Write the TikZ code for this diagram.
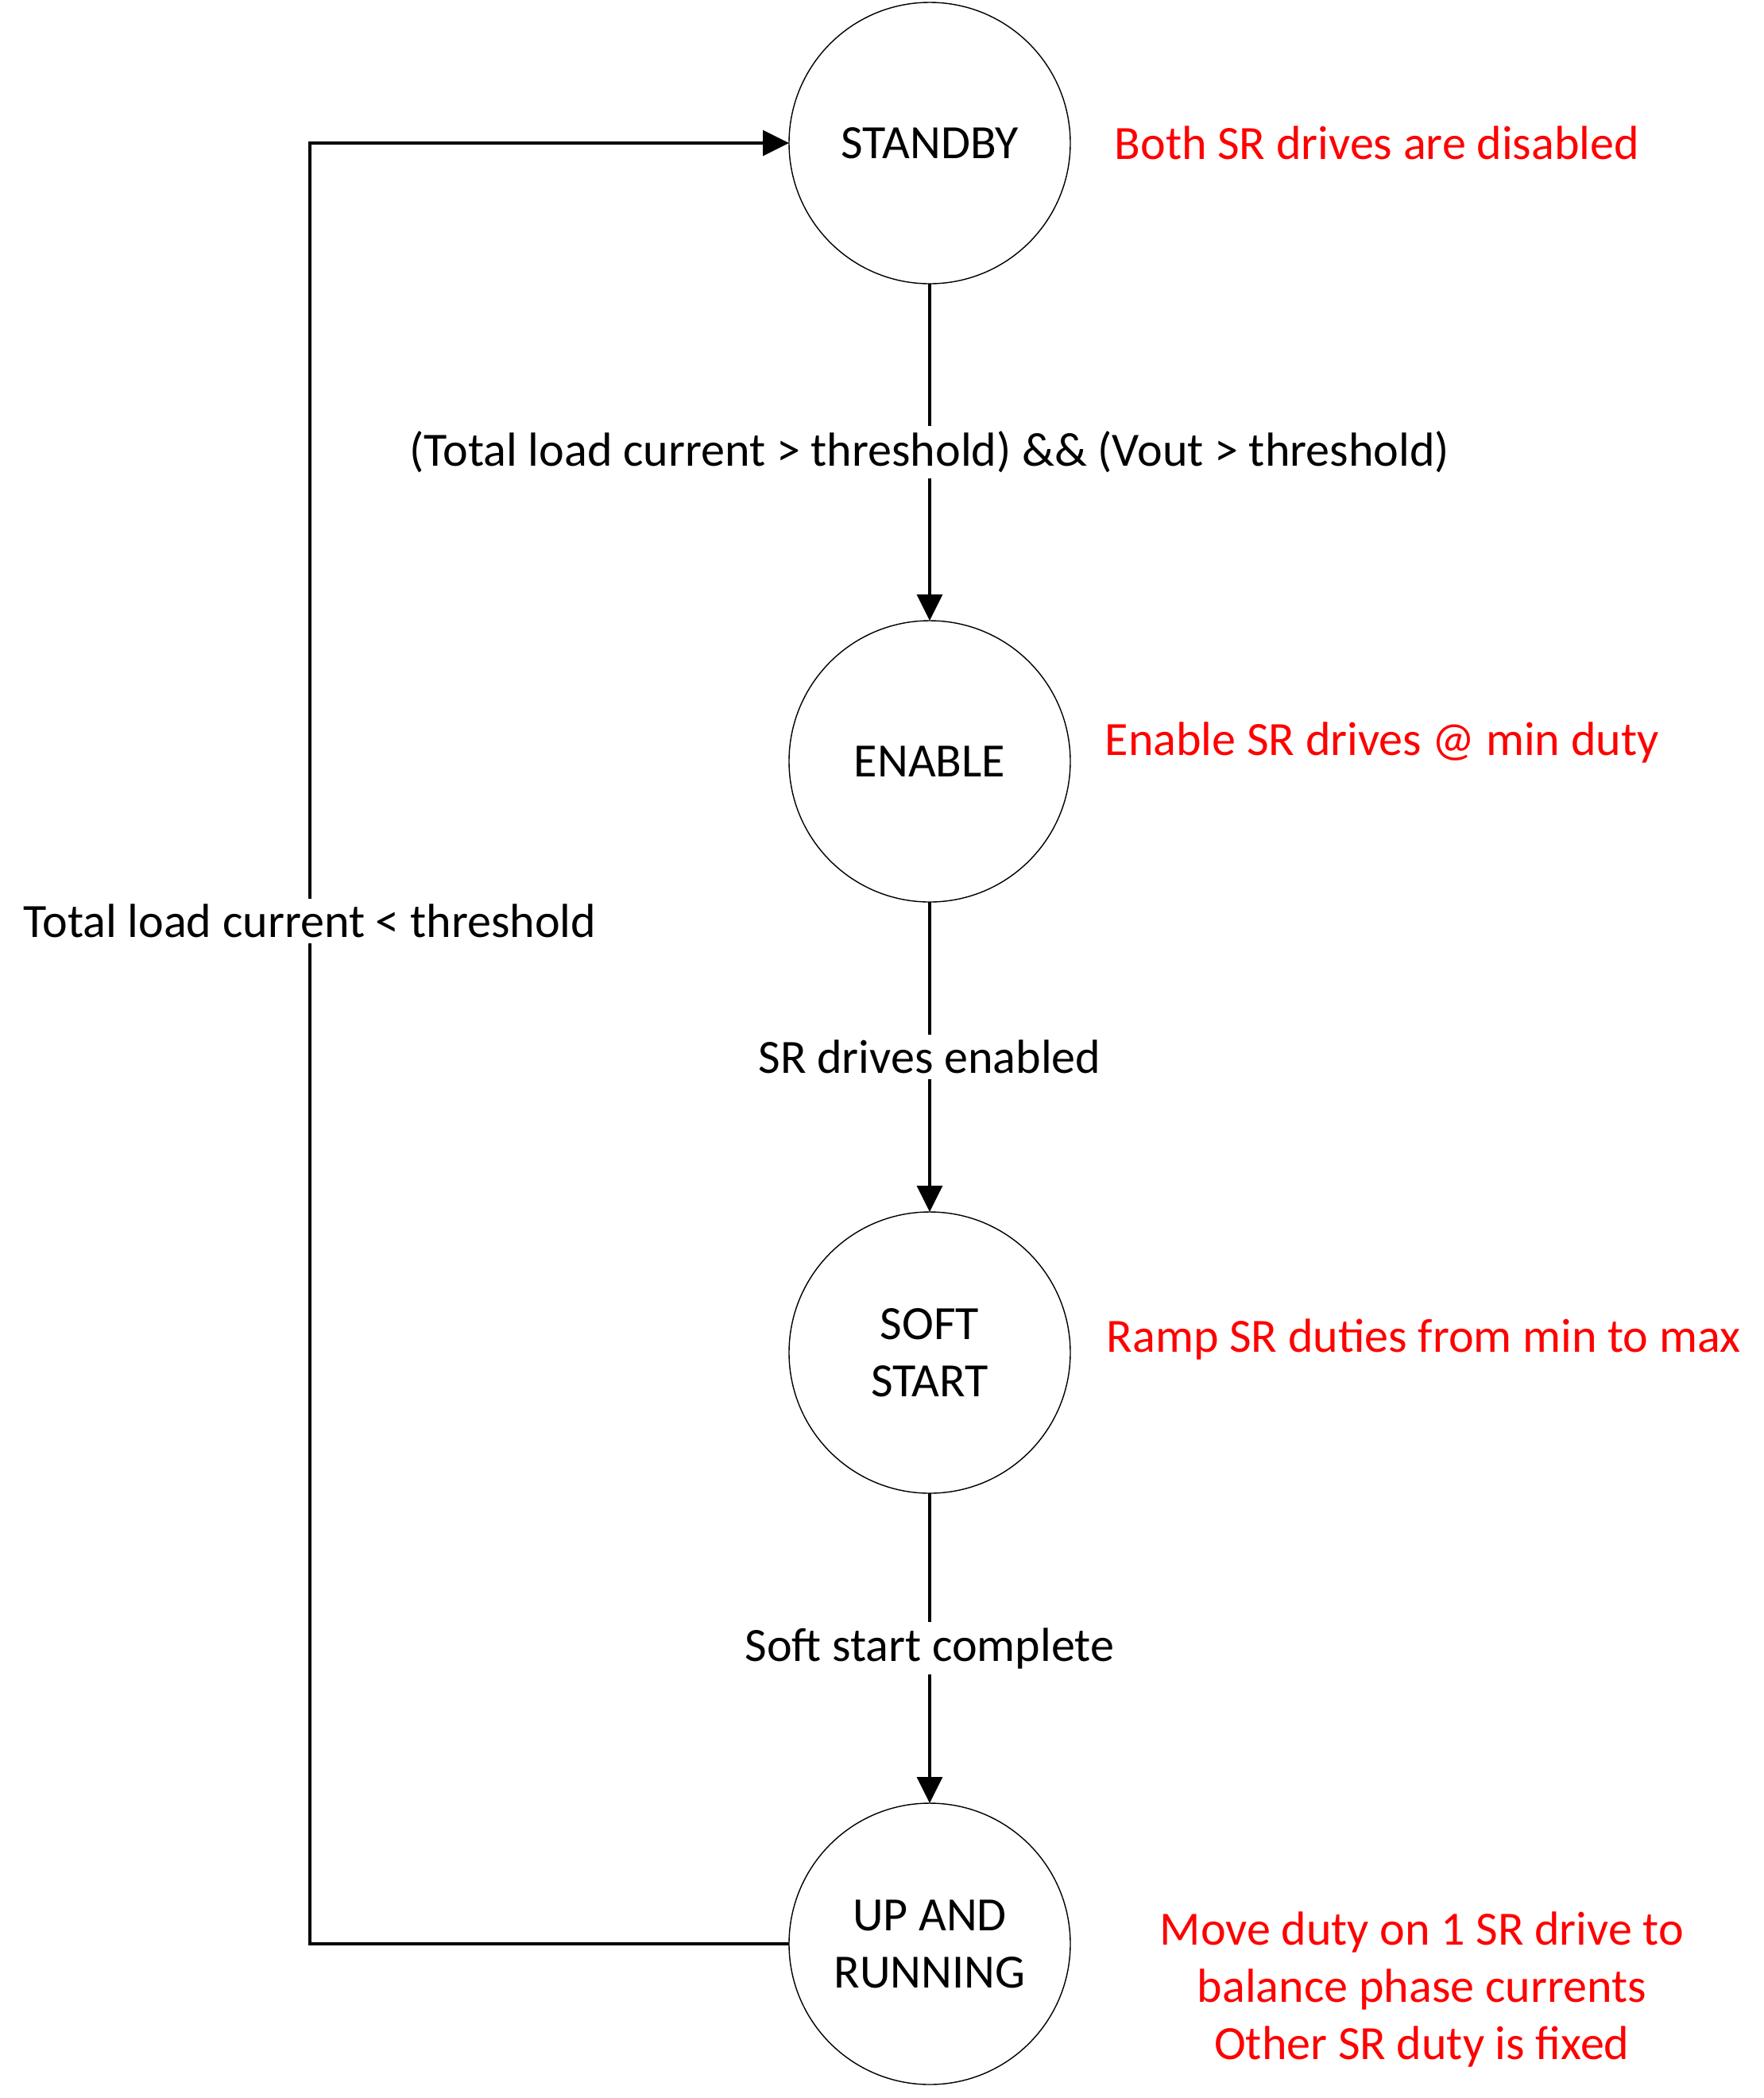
\documentclass[tikz,border=0pt]{standalone}
\usepackage{fontspec}
\setmainfont{Carlito}
\usetikzlibrary{positioning,arrows.meta}
\newcommand{\diagfont}{\fontsize{17.1}{20.5}\selectfont}
\tikzset{
    fsmstate/.style={
        circle, draw, line width=0.4pt,
        minimum size=3.54cm, inner sep=0pt, outer sep=0pt,
        align=center, font=\diagfont
    },
    note/.style={
        inner sep=0pt, align=center,
        text=red, font=\diagfont
    },
    cond/.style={
        fill=white, inner sep=2pt, font=\diagfont
    },
    flow/.style={
        line width=1pt,
        -{Triangle[length=0.33cm, width=0.32cm]}
    }
}
\begin{document}
\begin{tikzpicture}[node distance=3.9cm]

        \useasboundingbox (0,0) rectangle (22.2,-26.4);

        % States
        \node[fsmstate] (standby) at (11.70,-1.80) {STANDBY};
        \node[fsmstate, below=4.24cm of standby] (enable) {ENABLE};
        \node[fsmstate, below=of enable] (softstart) {SOFT\\START};
        \node[fsmstate, below=of softstart] (running) {UP AND\\RUNNING};

        % Notes
        \node[note, right=0.55cm of standby] (nstandby)
            {Both SR drives are disabled};
        \node[note, right=0.43cm of enable, yshift=0.24cm] (nenable)
            {Enable SR drives @ min duty};
        \node[note, right=0.45cm of softstart, yshift=0.17cm] (nsoftstart)
            {Ramp SR duties from min to max};
        \node[note, right=1.12cm of running, yshift=-0.57cm] (nrunning)
            {Move duty on 1 SR drive to\\balance phase currents\\Other SR duty is fixed};

        % Loop column
        \coordinate (loopx) at (3.90,0);

        % Transitions
        \draw[flow] (standby.south) -- node[cond]
            {(Total load current > threshold) \&\& (Vout > threshold)} (enable.north);
        \draw[flow] (enable.south) -- node[cond] {SR drives enabled} (softstart.north);
        \draw[flow] (softstart.south) -- node[cond] {Soft start complete} (running.north);
        \draw[flow] (running.west) -- (running.west -| loopx)
            -- node[cond, pos=0.568] {Total load current < threshold} (standby.west -| loopx)
            -- (standby.west);

    \end{tikzpicture}
\end{document}
